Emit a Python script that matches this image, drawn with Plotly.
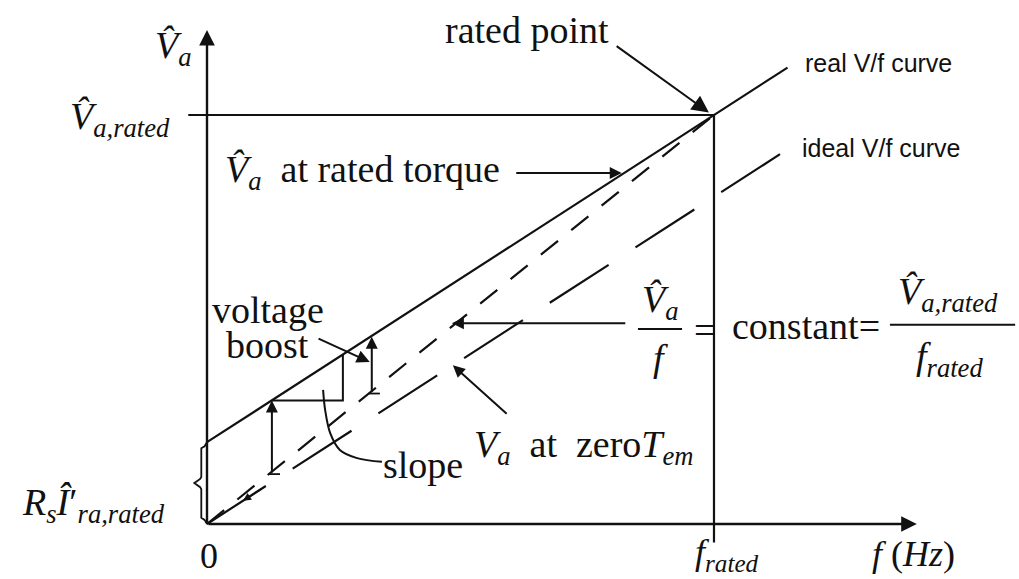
import plotly.graph_objects as go

# Per-unit quantities: frequency as f / f_rated, voltage as V_a / V_a,rated
f_rated = 1.0
V_rated = 1.0
boost_V = 0.2            # R_s * I'_ra,rated

# real V/f curve (with voltage boost), continues past the rated point
f_real = [0.0, 1.0, 1.145]
V_real = [0.2, 1.0, 1.116]

# V_a / f = constant line through the rated point
f_const = [0.0, 1.0]
V_const = [0.0, 1.0]

# V_a at zero electromagnetic torque (ideal V/f curve)
f_zero = [0.0, 1.145]
V_zero = [0.0, 0.916]

# voltage-boost arrows: from the constant-V/f line up to the real curve
boost_f = [0.128, 0.325]
boost_lo = [0.128, 0.325]
boost_hi = [0.302, 0.458]

# slope triangle on the real curve
slope_f = [0.128, 0.268, 0.268]
slope_V = [0.302, 0.302, 0.414]

# curved leader from the slope triangle to its label
lead_f = [0.229, 0.233, 0.243, 0.262, 0.296, 0.345]
lead_V = [0.328, 0.279, 0.222, 0.181, 0.161, 0.152]

SERIF = "Liberation Serif, Times New Roman, serif"
SANS = "Liberation Sans, Arial, sans-serif"
INK = "#111111"
FS = 38

fig = go.Figure()


def add_line(xs, ys, dash="solid", width=2.2):
    fig.add_trace(go.Scatter(x=xs, y=ys, mode="lines",
                             line=dict(color=INK, width=width, dash=dash),
                             hoverinfo="skip", showlegend=False))


# reference lines at the rated point
add_line([-0.037, f_rated], [V_rated, V_rated])
add_line([f_rated, f_rated], [V_rated, -0.045])

# the three characteristics
add_line(f_real, V_real)
add_line(f_const, V_const, dash="22px,17px")
add_line(f_zero, V_zero, dash="70px,32px")

# slope triangle and its leader
add_line(slope_f, slope_V, width=2)
fig.add_trace(go.Scatter(x=lead_f, y=lead_V, mode="lines",
                         line=dict(color=INK, width=2, shape="spline"),
                         hoverinfo="skip", showlegend=False))


# curly brace marking R_s I'_ra,rated on the voltage axis
def brace(f0, v0, v1, depth, n=40):
    xs, ys = [], []
    mid = 0.5 * (v0 + v1)
    for i in range(n + 1):
        t = i / n
        v = v0 + (v1 - v0) * t
        # two hooks at the ends, a pointed tip at the middle
        s = abs(v - mid) / (0.5 * (v1 - v0))
        x = f0 - depth * 0.45
        if s > 0.85:
            x = f0 - depth * 0.45 + depth * 0.45 * ((s - 0.85) / 0.15) ** 0.5
        if s < 0.12:
            x = f0 - depth * 0.45 - depth * 0.55 * (1 - s / 0.12)
        xs.append(x)
        ys.append(v)
    return xs, ys


bx, by = brace(0.0, 0.0, boost_V, 0.025)
add_line(bx, by, width=1.8)

# small end ticks under the boost arrows
for fb, vb in zip(boost_f, boost_lo):
    fig.add_shape(type="line", xref="x", yref="y",
                  x0=fb - 0.006, x1=fb + 0.016, y0=vb - 0.006, y1=vb - 0.006,
                  line=dict(color=INK, width=1.8))

annotations = []


def arrow(tail, tip, size=1.2, width=2.0, head=2):
    annotations.append(dict(x=tip[0], y=tip[1], ax=tail[0], ay=tail[1],
                            xref="x", yref="y", axref="x", ayref="y",
                            text="", showarrow=True, arrowhead=head,
                            arrowsize=size, arrowwidth=width, arrowcolor=INK,
                            standoff=0, startstandoff=0))


def label(x, y, text, size=FS, family=SERIF, xanchor="center", yanchor="middle"):
    annotations.append(dict(x=x, y=y, xref="x", yref="y", text=text,
                            showarrow=False, xanchor=xanchor, yanchor=yanchor,
                            font=dict(family=family, size=size, color=INK)))


# axes with arrowheads
arrow((0.0, 0.0), (0.0, 1.208), size=1.3, width=2.4)
arrow((0.0, 0.0), (1.40, 0.0), size=1.3, width=2.4)

# pointer arrows
arrow((0.805, 1.171), (0.990, 1.006), size=1.7, width=2.0)
arrow((0.607, 0.858), (0.818, 0.858), size=1.2, width=2.0)
arrow((0.828, 0.491), (0.483, 0.491), size=1.2, width=2.0)
arrow((0.594, 0.266), (0.485, 0.388), size=1.2, width=2.0)
arrow((0.217, 0.455), (0.321, 0.396), size=1.3, width=2.0)
for fb, lo, hi in zip(boost_f, boost_lo, boost_hi):
    arrow((fb, lo - 0.006), (fb, hi), size=1.2, width=2.0)
arrow((0.11, 0.088), (0.071, 0.057), size=1.0, width=1.6)

HAT_V = "<i>V\u0302</i>"

label(-0.067, 1.164, HAT_V + "<sub><i>a</i></sub>")
label(-0.069, 0.99, HAT_V + "<sub><i>a,rated</i></sub>", xanchor="right")
label(0.631, 1.208, "rated point")
label(1.176, 1.127, "real V/f curve", size=25, family=SANS, xanchor="left")
label(1.170, 0.919, "ideal V/f curve", size=25, family=SANS, xanchor="left")
label(0.032, 0.861, HAT_V + "<sub><i>a</i></sub>\u00a0 at rated torque", xanchor="left")
label(0.120, 0.524, "voltage")
label(0.120, 0.437, "boost")
label(0.426, 0.144, "slope")
label(0.523, 0.188, "<i>V</i><sub><i>a</i></sub>\u00a0 at\u00a0 zero<i>T</i><sub><i>em</i></sub>",
      xanchor="left")

# V_a / f = constant = V_a,rated / f_rated
label(0.894, 0.542, HAT_V + "<sub><i>a</i></sub>")
label(0.894, 0.406, "<i>f</i>")
label(0.982, 0.475, "=")
label(1.032, 0.484, "constant=", xanchor="left")
label(1.462, 0.562, HAT_V + "<sub><i>a,rated</i></sub>")
label(1.465, 0.404, "<i>f</i><sub><i>rated</i></sub>")
fig.add_shape(type="line", xref="x", yref="y", x0=0.850, x1=0.937, y0=0.477, y1=0.477,
              line=dict(color=INK, width=2))
fig.add_shape(type="line", xref="x", yref="y", x0=1.347, x1=1.594, y0=0.487, y1=0.487,
              line=dict(color=INK, width=2))

# axis labels
label(0.004, -0.078, "0", size=36)
label(1.026, -0.074, "<i>f</i><sub><i>rated</i></sub>", size=36)
label(1.393, -0.074, "<i>f</i> (<i>Hz</i>)", size=36)
label(-0.079, 0.046, "<i>R</i><sub><i>s</i></sub><i>I\u0302</i>\u2032<sub><i>ra,rated</i></sub>",
      xanchor="right")

fig.update_layout(
    width=1019, height=579, autosize=False,
    margin=dict(l=0, r=0, t=0, b=0),
    paper_bgcolor="white", plot_bgcolor="white",
    xaxis=dict(range=[-0.4083, 1.6016], visible=False, fixedrange=True),
    yaxis=dict(range=[-0.1345, 1.2812], visible=False, fixedrange=True),
    annotations=annotations,
    showlegend=False,
)

fig.write_html("out.html")
